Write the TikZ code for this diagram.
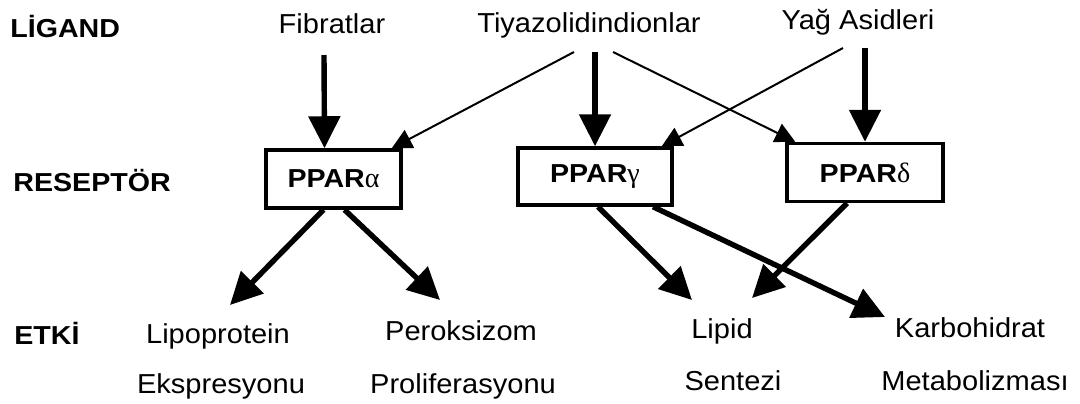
\documentclass[tikz,border=0pt]{standalone}
\usepackage{fontspec}
\setmainfont{Liberation Sans}[FakeStretch=1.06]
\newfontfamily\labfont{Liberation Sans}[FakeStretch=1.1]
\newfontfamily\grkfont{Liberation Serif}
\newcommand{\grletter}[1]{{\grkfont\mdseries\fontsize{14}{16}\selectfont #1}}
\usetikzlibrary{positioning, arrows.meta}

\begin{document}
\begin{tikzpicture}[
    x=0.5pt, y=-0.5pt,
    txt/.style={font=\fontsize{13.7}{16}\selectfont, anchor=base, inner sep=1pt},
    level/.style={font=\labfont\fontsize{13}{15}\selectfont\bfseries, anchor=base west, inner sep=0pt},
    receptor/.style={rectangle, draw=black, fill=white, line width=1.75pt, minimum height=29pt, inner sep=0pt, font=\labfont\fontsize{13}{15}\selectfont\bfseries},
    bigarrow/.style={-{Triangle[length=16pt, width=15.5pt]}, line width=2.7pt},
    thinarrow/.style={-{Triangle[length=10pt, width=10pt]}, line width=1pt}
]
\useasboundingbox (0,0) rectangle (1080,403);

% Levels
\node[level] (ligand) at (10,37) {LİGAND};
\node[level] (reseptor) at (13,191) {RESEPTÖR};
\node[level] (etki) at (14,344) {ETKİ};

% Ligands
\node[txt] (fib) at (332,33) {Fibratlar};
\node[txt] (tzd) at (589,32) {Tiyazolidindionlar};
\node[txt] (yag) at (858,29) {Yağ Asidleri};

% Receptors
\node[receptor, minimum width=67.5pt] (pa) at (333.5,179) {PPAR\grletter{α}};
\node[receptor, minimum width=77pt, minimum height=28.5pt] (pg) at (595,176.5) {PPAR\grletter{γ}};
\node[receptor, minimum width=78pt] (pd) at (865,172.5) {PPAR\grletter{δ}};

% Effects
\node[txt] (lip1) at (218,343) {Lipoprotein};
\node[txt, below=25pt of lip1.base, anchor=base, xshift=1.5pt] (lip2) {Ekspresyonu};
\node[txt] (per1) at (461,340) {Peroksizom};
\node[txt, below=26.5pt of per1.base, anchor=base, xshift=1pt] (per2) {Proliferasyonu};
\node[txt] (lpd1) at (722,338) {Lipid};
\node[txt, below=26pt of lpd1.base, anchor=base, xshift=5.5pt] (lpd2) {Sentezi};
\node[txt] (krb1) at (970,337) {Karbohidrat};
\node[txt, below=26.5pt of krb1.base, anchor=base, xshift=2.5pt] (krb2) {Metabolizması};

% Ligand -> receptor
\draw[bigarrow] ([xshift=-4pt,yshift=-11pt]fib.base) -- ([xshift=-4.5pt]pa.north);
\draw[bigarrow] ([xshift=3pt,yshift=-10pt]tzd.base) -- (pg.north);
\draw[thinarrow] ([xshift=-7.5pt,yshift=-10pt]tzd.base) -- ([xshift=-5.5pt]pa.north east);
\draw[thinarrow] ([xshift=12pt,yshift=-10pt]tzd.base) -- ([xshift=5pt]pd.north west);
\draw[bigarrow] ([xshift=3.5pt,yshift=-9.5pt]yag.base) -- (pd.north);
\draw[thinarrow] ([xshift=-7.5pt,yshift=-9.5pt]yag.base) -- ([xshift=-6pt]pg.north east);

% Receptor -> effect
\draw[bigarrow] ([xshift=-5pt]pa.south) -- ([xshift=6pt,yshift=19pt]lip1.base);
\draw[bigarrow] ([xshift=5.5pt]pa.south) -- ([xshift=-10.5pt,yshift=20pt]per1.base);
\draw[bigarrow] ([xshift=1.5pt]pg.south) -- ([xshift=-15pt,yshift=19pt]lpd1.base);
\draw[bigarrow] ([xshift=29pt]pg.south) -- ([xshift=-42.5pt,yshift=10pt]krb1.base);
\draw[bigarrow] ([xshift=-9pt]pd.south) -- ([xshift=15pt,yshift=20pt]lpd1.base);

\end{tikzpicture}
\end{document}
